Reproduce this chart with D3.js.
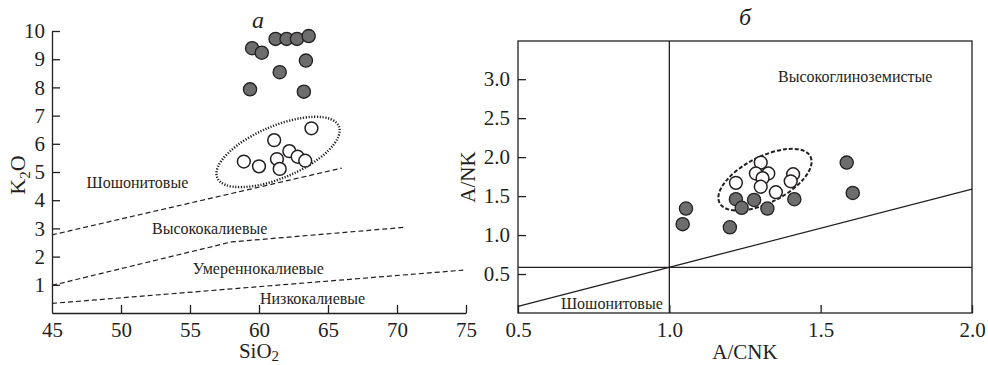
<!DOCTYPE html>
<html lang="ru">
<head>
    <meta charset="UTF-8">
    <title>K2O-SiO2 и A/NK-A/CNK</title>
    <script src="https://d3js.org/d3.v7.min.js"></script>
    <style>
        body {
            margin: 0;
            background: #fff;
        }
        svg, svg text {
            font-family: "Liberation Serif", "Times New Roman", Times, "DejaVu Serif", serif;
        }
        .axis path, .axis line {
            stroke: #231f20;
            stroke-width: 1.3;
        }
        .axis text {
            font-size: 21px;
            fill: #231f20;
        }
    </style>
</head>
<body>
<div id="container"></div>
<script>
    // ---- data: panel a (K2O vs SiO2) ----
    const siO2Ticks = [45, 50, 55, 60, 65, 70, 75];
    const k2oTicks = [1, 2, 3, 4, 5, 6, 7, 8, 9, 10];

    // filled circles
    const aFilledSi = [59.5, 60.2, 61.2, 62.0, 62.75, 63.6, 63.4, 61.5, 59.35, 63.25];
    const aFilledK = [9.39, 9.23, 9.72, 9.72, 9.72, 9.82, 8.95, 8.54, 7.93, 7.85];
    // open circles
    const aOpenSi = [63.8, 61.1, 62.2, 62.8, 63.35, 61.3, 61.5, 58.9, 60.0];
    const aOpenK = [6.55, 6.13, 5.74, 5.54, 5.40, 5.46, 5.11, 5.37, 5.20];

    // series boundaries (dashed)
    const shoshoniteLine = [[45, 2.77], [66.0, 5.14]];
    const highKLine = [[45, 0.98], [58.0, 2.52], [70.6, 3.04]];
    const lowKLine = [[45, 0.34], [74.8, 1.52]];

    const aLabels = [
        {text: 'Шошонитовые', x: 47.5, y: 4.43},
        {text: 'Высококалиевые', x: 52.25, y: 2.8},
        {text: 'Умереннокалиевые', x: 55.2, y: 1.38},
        {text: 'Низкокалиевые', x: 60.07, y: 0.32}
    ];
    const aEllipse = {x: 61.38, y: 5.71};

    // ---- data: panel б (A/NK vs A/CNK) ----
    const acnkTicks = [0.5, 1.0, 1.5, 2.0];
    const ankTicks = [0.5, 1.0, 1.5, 2.0, 2.5, 3.0];

    const bFilledX = [1.586, 1.606, 1.220, 1.239, 1.280, 1.324, 1.413, 1.200, 1.055, 1.044];
    const bFilledY = [1.93, 1.54, 1.46, 1.35, 1.45, 1.34, 1.46, 1.10, 1.34, 1.14];
    const bOpenX = [1.302, 1.286, 1.327, 1.308, 1.302, 1.220, 1.352, 1.409, 1.401];
    const bOpenY = [1.93, 1.79, 1.79, 1.73, 1.62, 1.67, 1.55, 1.78, 1.69];

    const verticalLine = 1.0;
    const horizontalLine = 0.585;
    const diagonalLine = [[0.5, 0.085], [2.0, 1.59]];
    const bLabels = [
        {text: 'Высокоглиноземистые', x: 1.359, y: 2.97},
        {text: 'Шошонитовые', x: 0.642, y: 0.05}
    ];
    const bEllipse = {x: 1.316, y: 1.71};

    const ink = '#231f20';
    const grayFill = '#6d6d6d';
    const serif = '"Liberation Serif", "Times New Roman", Times, "DejaVu Serif", serif';

    const svg = d3.select('#container').append('svg')
        .attr('width', 988)
        .attr('height', 365)
        .attr('font-family', serif);

    // ---------- panel a ----------
    const xa = d3.scaleLinear().domain([45, 75]).range([52, 466]);
    const ya = d3.scaleLinear().domain([0, 10]).range([313, 31]);

    const gA = svg.append('g');

    gA.append('g')
        .attr('class', 'axis')
        .attr('transform', 'translate(0,' + ya(0) + ')')
        .call(d3.axisBottom(xa).tickValues(siO2Ticks).tickSize(-8).tickSizeOuter(0).tickPadding(9))
        .attr('font-family', serif);

    gA.append('g')
        .attr('class', 'axis')
        .attr('transform', 'translate(' + xa(45) + ',0)')
        .call(d3.axisLeft(ya).tickValues(k2oTicks).tickSize(-8).tickSizeOuter(0).tickPadding(7))
        .attr('font-family', serif);

    // remove tick at corner (45)
    gA.selectAll('.axis .tick line').filter(d => d === 45).remove();

    const lineA = d3.line().x(d => xa(d[0])).y(d => ya(d[1]));
    [shoshoniteLine, highKLine, lowKLine].forEach(l => {
        gA.append('path')
            .attr('d', lineA(l))
            .attr('fill', 'none')
            .attr('stroke', ink)
            .attr('stroke-width', 1.2)
            .attr('stroke-dasharray', '5,3');
    });

    gA.selectAll('.alabel')
        .data(aLabels)
        .enter()
        .append('text')
        .attr('x', d => xa(d.x))
        .attr('y', d => ya(d.y))
        .attr('font-size', 16)
        .attr('fill', ink)
        .text(d => d.text);

    // dotted ellipse
    gA.append('ellipse')
        .attr('cx', xa(aEllipse.x))
        .attr('cy', ya(aEllipse.y))
        .attr('rx', 66)
        .attr('ry', 26)
        .attr('transform', 'rotate(-23,' + xa(aEllipse.x) + ',' + ya(aEllipse.y) + ')')
        .attr('fill', 'none')
        .attr('stroke', ink)
        .attr('stroke-width', 2.4)
        .attr('stroke-dasharray', '1.2,1.6');

    gA.selectAll('.afill')
        .data(aFilledSi)
        .enter()
        .append('circle')
        .attr('cx', d => xa(d))
        .attr('cy', (d, i) => ya(aFilledK[i]))
        .attr('r', 6.6)
        .attr('fill', grayFill)
        .attr('stroke', ink)
        .attr('stroke-width', 1.3);

    gA.selectAll('.aopen')
        .data(aOpenSi)
        .enter()
        .append('circle')
        .attr('cx', d => xa(d))
        .attr('cy', (d, i) => ya(aOpenK[i]))
        .attr('r', 6.4)
        .attr('fill', '#fff')
        .attr('stroke', ink)
        .attr('stroke-width', 1.5);

    // axis titles
    const k2o = gA.append('text')
        .attr('transform', 'translate(25,' + (ya(5) + 3) + ') rotate(-90)')
        .attr('text-anchor', 'middle')
        .attr('font-size', 22)
        .attr('fill', ink);
    k2o.append('tspan').text('K');
    k2o.append('tspan').attr('font-size', 15).attr('dy', 5).text('2');
    k2o.append('tspan').attr('dy', -5).text('O');

    const sio2 = gA.append('text')
        .attr('x', xa(60))
        .attr('y', 358)
        .attr('text-anchor', 'middle')
        .attr('font-size', 21)
        .attr('fill', ink);
    sio2.append('tspan').text('SiO');
    sio2.append('tspan').attr('font-size', 15).attr('dy', 3).text('2');

    gA.append('text')
        .attr('x', 258)
        .attr('y', 28)
        .attr('text-anchor', 'middle')
        .attr('font-size', 24)
        .attr('font-style', 'italic')
        .attr('fill', ink)
        .text('а');

    // ---------- panel б ----------
    const xb = d3.scaleLinear().domain([0.5, 2.0]).range([518, 972]);
    const yb = d3.scaleLinear().domain([0, 3.49]).range([313, 41]);

    const gB = svg.append('g');

    gB.append('rect')
        .attr('x', xb(0.5))
        .attr('y', yb(3.49))
        .attr('width', xb(2.0) - xb(0.5))
        .attr('height', yb(0) - yb(3.49))
        .attr('fill', 'none')
        .attr('stroke', ink)
        .attr('stroke-width', 1.3);

    const fmt = d3.format('.1f');
    gB.append('g')
        .attr('class', 'axis')
        .attr('transform', 'translate(0,' + yb(0) + ')')
        .call(d3.axisBottom(xb).tickValues(acnkTicks).tickFormat(fmt).tickSize(-8).tickSizeOuter(0).tickPadding(9))
        .attr('font-family', serif);

    gB.append('g')
        .attr('class', 'axis')
        .attr('transform', 'translate(' + xb(0.5) + ',0)')
        .call(d3.axisLeft(yb).tickValues(ankTicks).tickFormat(fmt).tickSize(-8).tickSizeOuter(0).tickPadding(8))
        .attr('font-family', serif);

    gB.selectAll('.axis .domain').remove();

    // divider lines
    gB.append('line')
        .attr('x1', xb(verticalLine)).attr('x2', xb(verticalLine))
        .attr('y1', yb(0)).attr('y2', yb(3.49))
        .attr('stroke', ink).attr('stroke-width', 1.3);
    gB.append('line')
        .attr('x1', xb(0.5)).attr('x2', xb(2.0))
        .attr('y1', yb(horizontalLine)).attr('y2', yb(horizontalLine))
        .attr('stroke', ink).attr('stroke-width', 1.3);
    gB.append('path')
        .attr('d', d3.line().x(d => xb(d[0])).y(d => yb(d[1]))(diagonalLine))
        .attr('fill', 'none')
        .attr('stroke', ink).attr('stroke-width', 1.3);

    gB.selectAll('.blabel')
        .data(bLabels)
        .enter()
        .append('text')
        .attr('x', d => xb(d.x))
        .attr('y', d => yb(d.y))
        .attr('font-size', 16)
        .attr('fill', ink)
        .text(d => d.text);

    gB.append('ellipse')
        .attr('cx', xb(bEllipse.x))
        .attr('cy', yb(bEllipse.y))
        .attr('rx', 51)
        .attr('ry', 23)
        .attr('transform', 'rotate(-27,' + xb(bEllipse.x) + ',' + yb(bEllipse.y) + ')')
        .attr('fill', 'none')
        .attr('stroke', ink)
        .attr('stroke-width', 2)
        .attr('stroke-dasharray', '4,2');

    gB.selectAll('.bfill')
        .data(bFilledX)
        .enter()
        .append('circle')
        .attr('cx', d => xb(d))
        .attr('cy', (d, i) => yb(bFilledY[i]))
        .attr('r', 6.6)
        .attr('fill', grayFill)
        .attr('stroke', ink)
        .attr('stroke-width', 1.3);

    gB.selectAll('.bopen')
        .data(bOpenX)
        .enter()
        .append('circle')
        .attr('cx', d => xb(d))
        .attr('cy', (d, i) => yb(bOpenY[i]))
        .attr('r', 6.4)
        .attr('fill', '#fff')
        .attr('stroke', ink)
        .attr('stroke-width', 1.5);

    gB.append('text')
        .attr('transform', 'translate(475,' + yb(1.745) + ') rotate(-90)')
        .attr('text-anchor', 'middle')
        .attr('font-size', 21)
        .attr('fill', ink)
        .text('A/NK');

    gB.append('text')
        .attr('x', xb(1.25))
        .attr('y', 359)
        .attr('text-anchor', 'middle')
        .attr('font-size', 21)
        .attr('fill', ink)
        .text('A/CNK');

    gB.append('text')
        .attr('x', 745)
        .attr('y', 25)
        .attr('text-anchor', 'middle')
        .attr('font-size', 24)
        .attr('font-style', 'italic')
        .attr('fill', ink)
        .text('б');
</script>
</body>
</html>
